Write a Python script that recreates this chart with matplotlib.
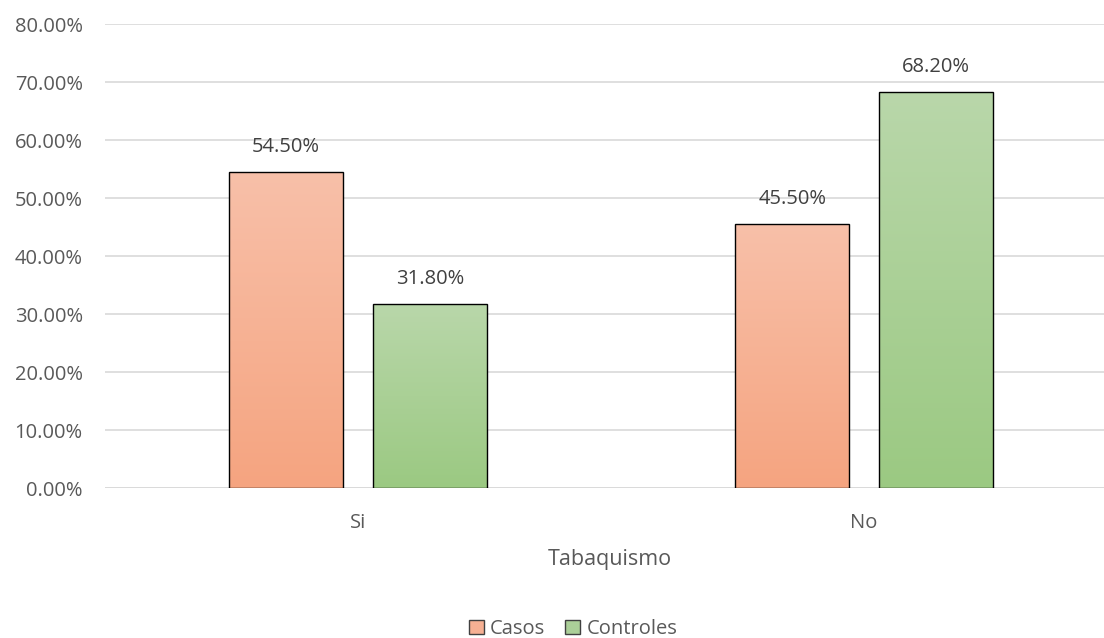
import matplotlib.pyplot as plt
import numpy as np
from matplotlib.colors import LinearSegmentedColormap
from matplotlib.patches import Patch

categories = ['Si', 'No']
casos = [0.545, 0.455]
controles = [0.318, 0.682]
series_names = ['Casos', 'Controles']
yticks = [0.0, 0.1, 0.2, 0.3, 0.4, 0.5, 0.6, 0.7, 0.8]

plt.rcParams['font.family'] = ['Open Sans', 'DejaVu Sans']

fig = plt.figure(figsize=(11.04, 6.38), dpi=100)
ax = fig.add_axes([105 / 1104, 150 / 638, 999 / 1104, 464 / 638])

x = np.arange(len(categories))
w = 0.225
off = 0.142

grad_orange = LinearSegmentedColormap.from_list('o', ['#F5A480', '#F8C0A9'])
grad_green = LinearSegmentedColormap.from_list('g', ['#9BC982', '#B9D7AA'])
grad = np.linspace(0, 1, 256).reshape(-1, 1)

for vals, dx, cmap in [(casos, -off, grad_orange), (controles, off, grad_green)]:
    bars = ax.bar(x + dx, vals, w, color='none', edgecolor='black', linewidth=1, zorder=3)
    for b, v in zip(bars, vals):
        x0 = b.get_x()
        im = ax.imshow(grad, cmap=cmap, origin='lower', aspect='auto',
                       extent=[x0, x0 + w, 0, v], zorder=2)
        im.set_clip_path(b)
        ax.annotate(f'{v * 100:.2f}%', (x0 + w / 2, v), xytext=(0, 25),
                    textcoords='offset pixels', ha='center', va='center',
                    fontsize=14.5, color='#404040')

ax.set_xlim(-0.5, -0.5 + 999 / 506)
ax.set_ylim(0, 0.8)
ax.set_yticks(yticks)
ax.set_yticklabels([f'{t * 100:.2f}%' for t in yticks], fontsize=14.5, color='#595959')
ax.set_xticks(x)
ax.set_xticklabels(categories, fontsize=14.5, color='#595959')
ax.tick_params(axis='x', length=0, pad=18)
ax.tick_params(axis='y', length=0, pad=16)
ax.grid(axis='y', color='#D9D9D9', linewidth=1.2, zorder=0)
ax.set_axisbelow(True)
for s in ax.spines.values():
    s.set_visible(False)
ax.axhline(0, color='#D9D9D9', linewidth=1.2, zorder=1)

ax.set_xlabel('Tabaquismo', fontsize=15.5, color='#595959')
ax.xaxis.set_label_coords((610 - 105) / 999, -72 / 464)
ax.xaxis.label.set_va('center')

handles = [Patch(facecolor='#F6B093', edgecolor='#404040', label=series_names[0]),
           Patch(facecolor='#ABCF98', edgecolor='#404040', label=series_names[1])]
fig.legend(handles=handles, loc='center', bbox_to_anchor=(573 / 1104, 1 - 629 / 638),
           ncol=2, frameon=False, fontsize=14.5, handlelength=0.75, handleheight=0.75,
           handletextpad=0.3, columnspacing=1.0, labelcolor='#595959',
           borderpad=0, borderaxespad=0)

fig.savefig('out.png', dpi=100)
